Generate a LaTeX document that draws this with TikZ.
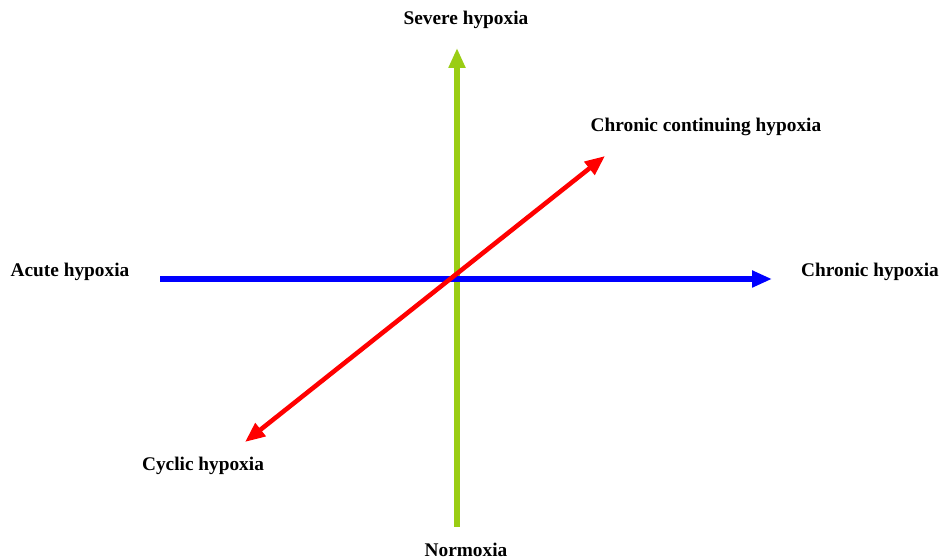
\documentclass[tikz,border=0pt]{standalone}
\usepackage{fontspec}
\setmainfont{Liberation Serif}
\usetikzlibrary{arrows.meta}
\definecolor{axisgreen}{RGB}{154,205,20}
\begin{document}
\begin{tikzpicture}[x=0.02cm,y=-0.02cm,
    lbl/.style={font=\fontsize{11}{13}\selectfont\bfseries, inner sep=1pt},
    axis/.style={line width=3.2pt, -{Triangle[length=0.4cm,width=0.32cm]}}]
  \useasboundingbox (0,0) rectangle (941,560);
  \node[lbl] (severe) at (466,20) {Severe hypoxia};
  \node[lbl] (normoxia) at (466,550) {Normoxia};
  \node[lbl] (acute) at (70,272) {Acute hypoxia};
  \node[lbl] (chronic) at (870,272) {Chronic hypoxia};
  \node[lbl] (continuing) at (706,127) {Chronic continuing hypoxia};
  \node[lbl] (cyclic) at (203,466) {Cyclic hypoxia};
  \coordinate (vbot) at (457,527);
  \coordinate (vtop) at (457,48);
  \coordinate (hleft) at (160,279);
  \coordinate (hright) at (772,279);
  \coordinate (dtop) at (605,156);
  \coordinate (dbot) at (245,442);
  \draw[axis, axisgreen] (vbot) -- (vtop);
  \draw[axis, blue] (hleft) -- (hright);
  \draw[axis, red, line width=2.6pt,
    {Triangle[length=0.4cm,width=0.32cm]}-{Triangle[length=0.4cm,width=0.32cm]}] (dbot) -- (dtop);
\end{tikzpicture}
\end{document}
